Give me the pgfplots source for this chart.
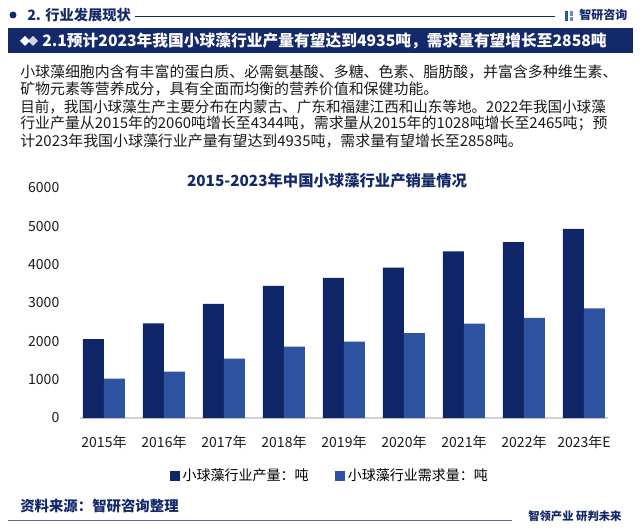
\documentclass[border=0pt]{standalone}
\usepackage{graphicx}
\usepackage{pgfplots}
\pgfplotsset{compat=1.18}
\usepackage{fontspec}
\setmainfont{Noto Sans CJK SC}
\definecolor{navy}{HTML}{14296A}
\definecolor{darkbar}{HTML}{0F2668}
\definecolor{lightbar}{HTML}{2E53A0}
\definecolor{txt}{HTML}{1A1A1A}
\begin{document}
\begin{tikzpicture}[x=0.75pt,y=-0.75pt]
\path[use as bounding box] (0,0) rectangle (640,528);
% header
\fill[navy] (13,15) circle (3.5);
\node[anchor=west,text=navy,font=\fontsize{10.7pt}{12pt}\selectfont\bfseries,inner sep=0] at (27,15) {2. 行业发展现状};
\draw[navy,line width=0.7pt] (135,16) -- (555,16);
\fill[lightbar] (565,11) rectangle (568,21);
\fill[lightbar!70] (569.5,11) rectangle (572.5,16);
\fill[lightbar!70] (569.5,17.5) rectangle (572.5,21);
\node[anchor=west,text=navy,font=\fontsize{9pt}{10pt}\selectfont\bfseries,inner sep=0] at (579,15) {智研咨询};
% title bar
\fill[navy] (8,28) rectangle (633,53);
\fill[white!80!navy] (28,41) -- (33,36) -- (38,41) -- (33,46) -- cycle;
\fill[white] (20,41) -- (25,36) -- (30,41) -- (25,46) -- cycle;
\node[anchor=west,text=white,font=\fontsize{11.8pt}{14pt}\selectfont\bfseries,inner sep=0] at (42,41) {2.1预计2023年我国小球藻行业产量有望达到4935吨，需求量有望增长至2858吨};
% paragraph
\begin{scope}[every node/.style={anchor=west,text=txt,font=\fontsize{11.2pt}{13pt}\selectfont,inner sep=0}]
\node at (20,72) {小球藻细胞内含有丰富的蛋白质、必需氨基酸、多糖、色素、脂肪酸，并富含多种维生素、};
\node at (20,89) {矿物元素等营养成分，具有全面而均衡的营养价值和保健功能。};
\node at (20,106.5) {\scalebox{0.975}[1]{目前，我国小球藻生产主要分布在内蒙古、广东和福建江西和山东等地。2022年我国小球藻}};
\node at (20,123.5) {行业产量从2015年的2060吨增长至4344吨，需求量从2015年的1028吨增长至2465吨；预};
\node at (20,140.5) {计2023年我国小球藻行业产量有望达到4935吨，需求量有望增长至2858吨。};
\end{scope}
% chart title
\node[text=navy,font=\fontsize{11.5pt}{13pt}\selectfont\bfseries] at (327,181) {2015-2023年中国小球藻行业产销量情况};
% axis
\begin{axis}[
  at={(60pt,-313.5pt)}, anchor=south west,
  scale only axis, width=396pt, height=172.5pt,
  ymin=0, ymax=6000, xmin=-0.4, xmax=8.4,
  ytick={0,1000,...,6000},
  xtick={0,...,8},
  xticklabels={2015年,2016年,2017年,2018年,2019年,2020年,2021年,2022年,2023年E},
  /pgf/number format/assume math mode=true,
  /pgf/number format/1000 sep={},
  major tick length=0pt,
  axis lines*=left,
  y axis line style={draw=none},
  x axis line style={draw=gray!35, line width=0.8pt},
  tick label style={font=\fontsize{10.5pt}{12pt}\selectfont, text=txt},
  yticklabel style={xshift=-12pt},
  xticklabel style={yshift=-9.5pt},
  ybar=0pt, bar width=15.75pt,
  legend style={at={(0.474,-0.252)}, anchor=center, draw=none, fill=none,
    legend columns=2, font=\fontsize{10.5pt}{12pt}\selectfont,
    /tikz/every even column/.append style={column sep=18pt}},
  legend image code/.code={\fill[#1] (0pt,-3.75pt) rectangle (7.5pt,3.75pt);},
]
\addplot[fill=darkbar, draw=none] coordinates {(0,2060) (1,2470) (2,2975) (3,3445) (4,3655) (5,3925) (6,4344) (7,4590) (8,4935)};
\addplot[fill=lightbar, draw=none] coordinates {(0,1028) (1,1210) (2,1550) (3,1862) (4,1992) (5,2211) (6,2465) (7,2610) (8,2858)};
\legend{小球藻行业产量：吨, 小球藻行业需求量：吨}
\end{axis}
% footer
\node[anchor=west,text=navy,font=\fontsize{10.8pt}{12pt}\selectfont\bfseries,inner sep=0] at (20,506) {资料来源：智研咨询整理};
\draw[navy!70,line width=0.6pt] (8,520) -- (512,520);
\node[anchor=west,text=navy,font=\fontsize{8.5pt}{10pt}\selectfont\bfseries,inner sep=0] at (528,516) {智领产业\ 研判未来};
\end{tikzpicture}
\end{document}
